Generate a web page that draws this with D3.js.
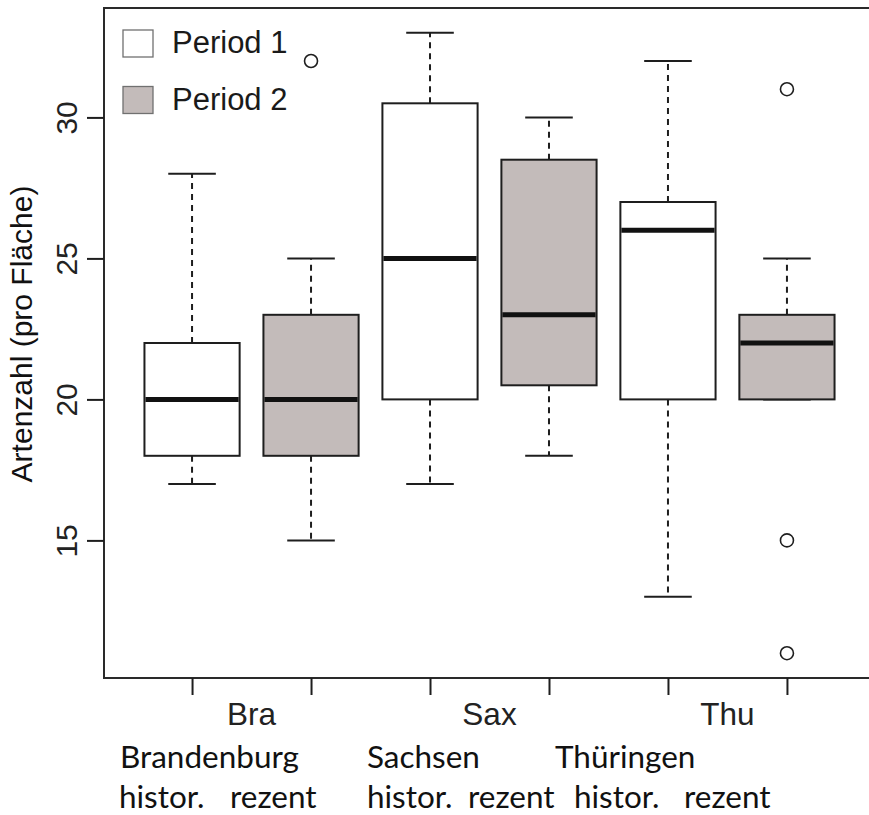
<!DOCTYPE html>
<html>
<head>
<meta charset="utf-8">
<script src="https://cdn.jsdelivr.net/npm/d3@7"></script>
<style>
  html, body { margin: 0; padding: 0; background: #fff; }
  svg { display: block; }
</style>
</head>
<body>
<svg id="chart" width="869" height="815"></svg>
<script>
// Species richness per plot: three regions, two survey periods
const groups = ["Bra", "Sax", "Thu"];
const regionNames = ["Brandenburg", "Sachsen", "Thüringen"];
const periodLabels = ["histor.", "rezent"];
const legendLabels = ["Period 1", "Period 2"];

// one entry per box, order: Bra P1, Bra P2, Sax P1, Sax P2, Thu P1, Thu P2
const boxPeriod = [0, 1, 0, 1, 0, 1];
const lowerWhisker = [17, 15, 17, 18, 13, 20];
const q1 = [18, 18, 20, 20.5, 20, 20];
const median = [20, 20, 25, 23, 26, 22];
const q3 = [22, 23, 30.5, 28.5, 27, 23];
const upperWhisker = [28, 25, 33, 30, 32, 25];
const outliers = [[], [32], [], [], [], [31, 15, 11]];

const yTicks = [15, 20, 25, 30];
const yLabel = "Artenzahl (pro Fläche)";

const periodFill = ["#ffffff", "#c3bbba"];
const ink = "#1e1e1e";
const sansFont = "'Liberation Sans', Arial, Helvetica, sans-serif";

const svg = d3.select("#chart");

const plot = { left: 104, right: 875, top: 8, bottom: 678 };

const x = d3.scaleLinear().domain([0.26, 6.74]).range([plot.left, plot.right]);
const y = d3.scaleLinear().domain([10.12, 33.88]).range([plot.bottom, plot.top]);

const slot = x(2) - x(1);
const boxW = slot * 0.8;
const capW = boxW / 2;

const boxes = boxPeriod.map((p, i) => ({
  pos: i + 1, period: p,
  lo: lowerWhisker[i], q1: q1[i], med: median[i], q3: q3[i], hi: upperWhisker[i],
  out: outliers[i]
}));

const g = svg.append("g");

// whiskers (dashed) and caps
boxes.forEach(b => {
  const cx = x(b.pos);
  g.append("line").attr("x1", cx).attr("x2", cx).attr("y1", y(b.q3)).attr("y2", y(b.hi))
    .attr("stroke", ink).attr("stroke-width", 2).attr("stroke-dasharray", "6,5");
  g.append("line").attr("x1", cx).attr("x2", cx).attr("y1", y(b.q1)).attr("y2", y(b.lo))
    .attr("stroke", ink).attr("stroke-width", 2).attr("stroke-dasharray", "6,5");
  [b.hi, b.lo].forEach(v => {
    g.append("line").attr("x1", cx - capW / 2).attr("x2", cx + capW / 2)
      .attr("y1", y(v)).attr("y2", y(v)).attr("stroke", ink).attr("stroke-width", 2);
  });
});

// boxes
g.selectAll("rect.box").data(boxes).enter().append("rect").attr("class", "box")
  .attr("x", d => x(d.pos) - boxW / 2)
  .attr("width", boxW)
  .attr("y", d => y(d.q3))
  .attr("height", d => y(d.q1) - y(d.q3))
  .attr("fill", d => periodFill[d.period])
  .attr("stroke", ink).attr("stroke-width", 2);

// medians
g.selectAll("line.med").data(boxes).enter().append("line").attr("class", "med")
  .attr("x1", d => x(d.pos) - boxW / 2 + 1)
  .attr("x2", d => x(d.pos) + boxW / 2 - 1)
  .attr("y1", d => y(d.med)).attr("y2", d => y(d.med))
  .attr("stroke", "#111").attr("stroke-width", 5);

// outliers
boxes.forEach(b => {
  g.selectAll(null).data(b.out).enter().append("circle")
    .attr("cx", x(b.pos)).attr("cy", v => y(v)).attr("r", 6.5)
    .attr("fill", "none").attr("stroke", ink).attr("stroke-width", 1.6);
});

// frame
svg.append("rect")
  .attr("x", plot.left).attr("y", plot.top)
  .attr("width", plot.right - plot.left).attr("height", plot.bottom - plot.top)
  .attr("fill", "none").attr("stroke", "#2a2a2a").attr("stroke-width", 2);

// y axis
const yAxis = svg.append("g").attr("transform", `translate(${plot.left},0)`)
  .call(d3.axisLeft(y).tickValues(yTicks).tickSize(17).tickFormat(d3.format("d")));
yAxis.select(".domain").remove();
yAxis.selectAll(".tick line").attr("stroke", ink).attr("stroke-width", 2);
yAxis.selectAll(".tick text")
  .attr("transform", "rotate(-90)")
  .attr("x", 0).attr("y", -27).attr("dy", 0)
  .attr("text-anchor", "middle")
  .attr("fill", "#222")
  .style("font-family", sansFont)
  .style("font-size", "30px");

// x axis (tick marks only)
const xAxis = svg.append("g").attr("transform", `translate(0,${plot.bottom})`)
  .call(d3.axisBottom(x).tickValues(d3.range(1, boxes.length + 1)).tickSize(17).tickFormat(""));
xAxis.select(".domain").remove();
xAxis.selectAll(".tick line").attr("stroke", ink).attr("stroke-width", 2);

// group labels
svg.selectAll("text.grp").data(groups).enter().append("text").attr("class", "grp")
  .attr("x", (d, i) => (x(2 * i + 1) + x(2 * i + 2)) / 2)
  .attr("y", 725)
  .attr("text-anchor", "middle")
  .attr("fill", "#222")
  .style("font-family", sansFont)
  .style("font-size", "31.5px")
  .text(d => d);

// y label
svg.append("text")
  .attr("transform", "translate(32,334) rotate(-90)")
  .attr("text-anchor", "middle")
  .attr("fill", "#111")
  .style("font-family", sansFont)
  .style("font-size", "30px")
  .text(yLabel);

// legend
const legend = svg.append("g");
legendLabels.forEach((lab, i) => {
  const ly = 30 + i * 56.5;
  legend.append("rect").attr("x", 123).attr("y", ly).attr("width", 30).attr("height", 27)
    .attr("fill", periodFill[i]).attr("stroke", "#707070").attr("stroke-width", 1.3);
  legend.append("text").attr("x", 172).attr("y", ly + 23)
    .attr("fill", "#1a1a1a")
    .style("font-family", sansFont)
    .style("font-size", "31px")
    .text(lab);
});

// region names and period captions beneath the axis
const caption = svg.append("g")
  .style("font-family", "Lato, 'Open Sans', sans-serif")
  .attr("fill", "#111");
const regionX = [120, 367, 555];
const periodX = [119, 230, 367, 468, 574, 684];

const probe = caption.append("text").style("font-size", "30px").text(regionNames[0]);
const fitSize = 30 * 179 / probe.node().getComputedTextLength();
probe.remove();

regionNames.forEach((n, i) => {
  caption.append("text").attr("x", regionX[i]).attr("y", 768)
    .style("font-size", fitSize + "px").text(n);
});
boxPeriod.forEach((p, i) => {
  caption.append("text").attr("x", periodX[i]).attr("y", 808)
    .style("font-size", fitSize + "px").text(periodLabels[p]);
});
</script>
</body>
</html>
